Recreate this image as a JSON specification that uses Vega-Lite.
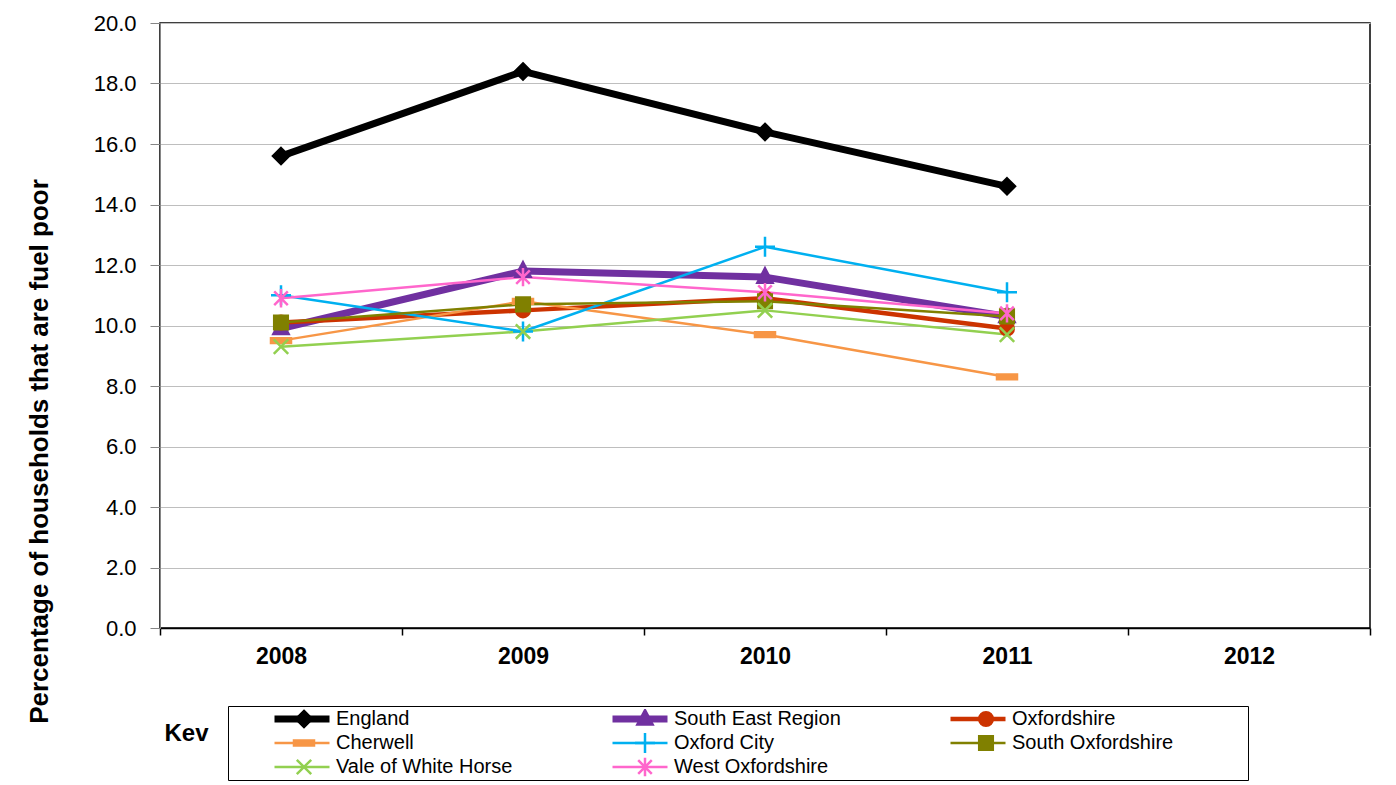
{
  "$schema": "https://vega.github.io/schema/vega-lite/v6.json",
  "autosize": "none",
  "width": 1210,
  "height": 605,
  "padding": {"left": 160, "top": 23, "right": 26, "bottom": 157},
  "background": "white",
  "config": {
    "font": "Liberation Sans",
    "view": {"stroke": "#000000", "strokeWidth": 1.5},
    "axis": {"labelFont": "Liberation Sans", "titleFont": "Liberation Sans", "labelColor": "#000000", "titleColor": "#000000"}
  },
  "data": {
    "values": [
      {"Area": "England", "Year": "2008", "Value": 15.6},
      {"Area": "England", "Year": "2009", "Value": 18.4},
      {"Area": "England", "Year": "2010", "Value": 16.4},
      {"Area": "England", "Year": "2011", "Value": 14.6},
      {"Area": "South East Region", "Year": "2008", "Value": 9.9},
      {"Area": "South East Region", "Year": "2009", "Value": 11.8},
      {"Area": "South East Region", "Year": "2010", "Value": 11.6},
      {"Area": "South East Region", "Year": "2011", "Value": 10.3},
      {"Area": "Oxfordshire", "Year": "2008", "Value": 10.1},
      {"Area": "Oxfordshire", "Year": "2009", "Value": 10.5},
      {"Area": "Oxfordshire", "Year": "2010", "Value": 10.9},
      {"Area": "Oxfordshire", "Year": "2011", "Value": 9.9},
      {"Area": "Cherwell", "Year": "2008", "Value": 9.5},
      {"Area": "Cherwell", "Year": "2009", "Value": 10.8},
      {"Area": "Cherwell", "Year": "2010", "Value": 9.7},
      {"Area": "Cherwell", "Year": "2011", "Value": 8.3},
      {"Area": "Oxford City", "Year": "2008", "Value": 11.0},
      {"Area": "Oxford City", "Year": "2009", "Value": 9.8},
      {"Area": "Oxford City", "Year": "2010", "Value": 12.6},
      {"Area": "Oxford City", "Year": "2011", "Value": 11.1},
      {"Area": "South Oxfordshire", "Year": "2008", "Value": 10.1},
      {"Area": "South Oxfordshire", "Year": "2009", "Value": 10.7},
      {"Area": "South Oxfordshire", "Year": "2010", "Value": 10.8},
      {"Area": "South Oxfordshire", "Year": "2011", "Value": 10.3},
      {"Area": "Vale of White Horse", "Year": "2008", "Value": 9.3},
      {"Area": "Vale of White Horse", "Year": "2009", "Value": 9.8},
      {"Area": "Vale of White Horse", "Year": "2010", "Value": 10.5},
      {"Area": "Vale of White Horse", "Year": "2011", "Value": 9.7},
      {"Area": "West Oxfordshire", "Year": "2008", "Value": 10.9},
      {"Area": "West Oxfordshire", "Year": "2009", "Value": 11.6},
      {"Area": "West Oxfordshire", "Year": "2010", "Value": 11.1},
      {"Area": "West Oxfordshire", "Year": "2011", "Value": 10.4}
    ]
  },
  "encoding": {
    "x": {
      "field": "Year", "type": "nominal",
      "scale": {"type": "band", "domain": ["2008", "2009", "2010", "2011", "2012"], "paddingInner": 0, "paddingOuter": 0},
      "axis": {
        "title": "Kev", "titleX": 26, "titleY": 105, "titleAlign": "center", "titleBaseline": "middle",
        "titleFontSize": 24, "titleFontWeight": "bold",
        "labelAngle": 0, "labelFontSize": 23, "labelFontWeight": "bold", "labelPadding": 10,
        "tickBand": "extent", "tickSize": 7, "tickColor": "#000000", "tickWidth": 1.5,
        "domainColor": "#000000", "domainWidth": 1.5, "grid": false
      }
    },
    "y": {
      "field": "Value", "type": "quantitative",
      "scale": {"domain": [0, 20], "nice": false, "zero": true},
      "axis": {
        "title": "Percentage of households that are fuel poor",
        "titleX": -121, "titleY": 428, "titleAlign": "center", "titleBaseline": "middle",
        "titleFontSize": 26, "titleFontWeight": "bold",
        "values": [0, 2, 4, 6, 8, 10, 12, 14, 16, 18, 20], "format": ".1f",
        "labelFontSize": 22, "labelFontWeight": "normal", "labelPadding": 14,
        "tickSize": 10, "tickColor": "#868686", "domainColor": "#868686",
        "grid": true, "gridColor": "#BEBEBE", "gridWidth": 1
      }
    }
  },
  "layer": [
    {
      "mark": {"type": "line", "strokeJoin": "round", "strokeCap": "round"},
      "encoding": {
        "color": {
          "field": "Area", "type": "nominal",
          "scale": {
            "domain": ["England", "South East Region", "Oxfordshire", "Cherwell", "Oxford City", "South Oxfordshire", "Vale of White Horse", "West Oxfordshire"],
            "range": ["#000000", "#7030A0", "#CC3300", "#F79646", "#00B0F0", "#808000", "#92D050", "#FF66CC"]
          },
          "legend": {
            "title": " ", "titleOrient": "right", "titlePadding": 72,
            "orient": "none", "legendX": 68, "legendY": 683, "direction": "horizontal",
            "columns": 3, "gridAlign": "all", "columnPadding": 56, "rowPadding": 4, "clipHeight": 20,
            "symbolType": "stroke", "symbolSize": 3025, "symbolOffset": 40,
            "labelFontSize": 20, "labelFont": "Liberation Sans", "labelColor": "#000000", "labelOffset": 3, "labelLimit": 400,
            "padding": 3, "strokeColor": "#000000"
          }
        },
        "strokeWidth": {
          "field": "Area", "type": "nominal",
          "scale": {
            "type": "ordinal",
            "domain": ["England", "South East Region", "Oxfordshire", "Cherwell", "Oxford City", "South Oxfordshire", "Vale of White Horse", "West Oxfordshire"],
            "range": [7, 7, 4.5, 2.5, 2.5, 2.5, 2.5, 2.5]
          }
        }
      }
    },
    {
      "mark": {"type": "point", "size": 256, "strokeWidth": 2.5, "opacity": 1},
      "encoding": {
        "fill": {
          "field": "Area", "type": "nominal",
          "scale": {
            "domain": ["West Oxfordshire", "Vale of White Horse", "South Oxfordshire", "Oxford City", "Cherwell", "Oxfordshire", "South East Region", "England"],
            "range": ["#FF66CC", "#92D050", "#808000", "#00B0F0", "#F79646", "#CC3300", "#7030A0", "#000000"]
          },
          "legend": {
            "title": null,
            "values": ["England", "South East Region", "Oxfordshire", "Cherwell", "Oxford City", "South Oxfordshire", "Vale of White Horse", "West Oxfordshire"]
          }
        },
        "stroke": {
          "field": "Area", "type": "nominal",
          "scale": {
            "domain": ["West Oxfordshire", "Vale of White Horse", "South Oxfordshire", "Oxford City", "Cherwell", "Oxfordshire", "South East Region", "England"],
            "range": ["#FF66CC", "#92D050", "#808000", "#00B0F0", "#F79646", "#CC3300", "#7030A0", "#000000"]
          },
          "legend": {
            "title": null,
            "values": ["England", "South East Region", "Oxfordshire", "Cherwell", "Oxford City", "South Oxfordshire", "Vale of White Horse", "West Oxfordshire"]
          }
        },
        "shape": {
          "field": "Area", "type": "nominal",
          "scale": {
            "domain": ["West Oxfordshire", "Vale of White Horse", "South Oxfordshire", "Oxford City", "Cherwell", "Oxfordshire", "South East Region", "England"],
            "range": [
              "M-0.85,-0.85L0.85,0.85M-0.85,0.85L0.85,-0.85M0,-1.15L0,1.15",
              "M-0.9,-0.9L0.9,0.9M-0.9,0.9L0.9,-0.9",
              "M-0.85,-0.85L0.85,-0.85L0.85,0.85L-0.85,0.85Z",
              "M-1.25,0L1.25,0M0,-1.25L0,1.25",
              "M-1.25,-0.3L1.25,-0.3L1.25,0.3L-1.25,0.3Z",
              "M-0.85,0A0.85,0.85 0 1,0 0.85,0A0.85,0.85 0 1,0 -0.85,0Z",
              "M0,-1.1L0.95,0.7L-0.95,0.7Z",
              "M0,-1L1,0L0,1L-1,0Z"
            ]
          },
          "legend": {
            "title": null,
            "values": ["England", "South East Region", "Oxfordshire", "Cherwell", "Oxford City", "South Oxfordshire", "Vale of White Horse", "West Oxfordshire"],
            "orient": "none", "legendX": 68, "legendY": 683, "direction": "horizontal",
            "columns": 3, "gridAlign": "all", "columnPadding": 56, "rowPadding": 4, "clipHeight": 20,
            "symbolSize": 256, "symbolStrokeWidth": 2.5, "symbolOffset": 63,
            "labelFontSize": 20, "labelFont": "Liberation Sans", "labelOpacity": 0, "labelOffset": 25, "labelLimit": 400,
            "padding": 3
          }
        }
      }
    }
  ]
}
